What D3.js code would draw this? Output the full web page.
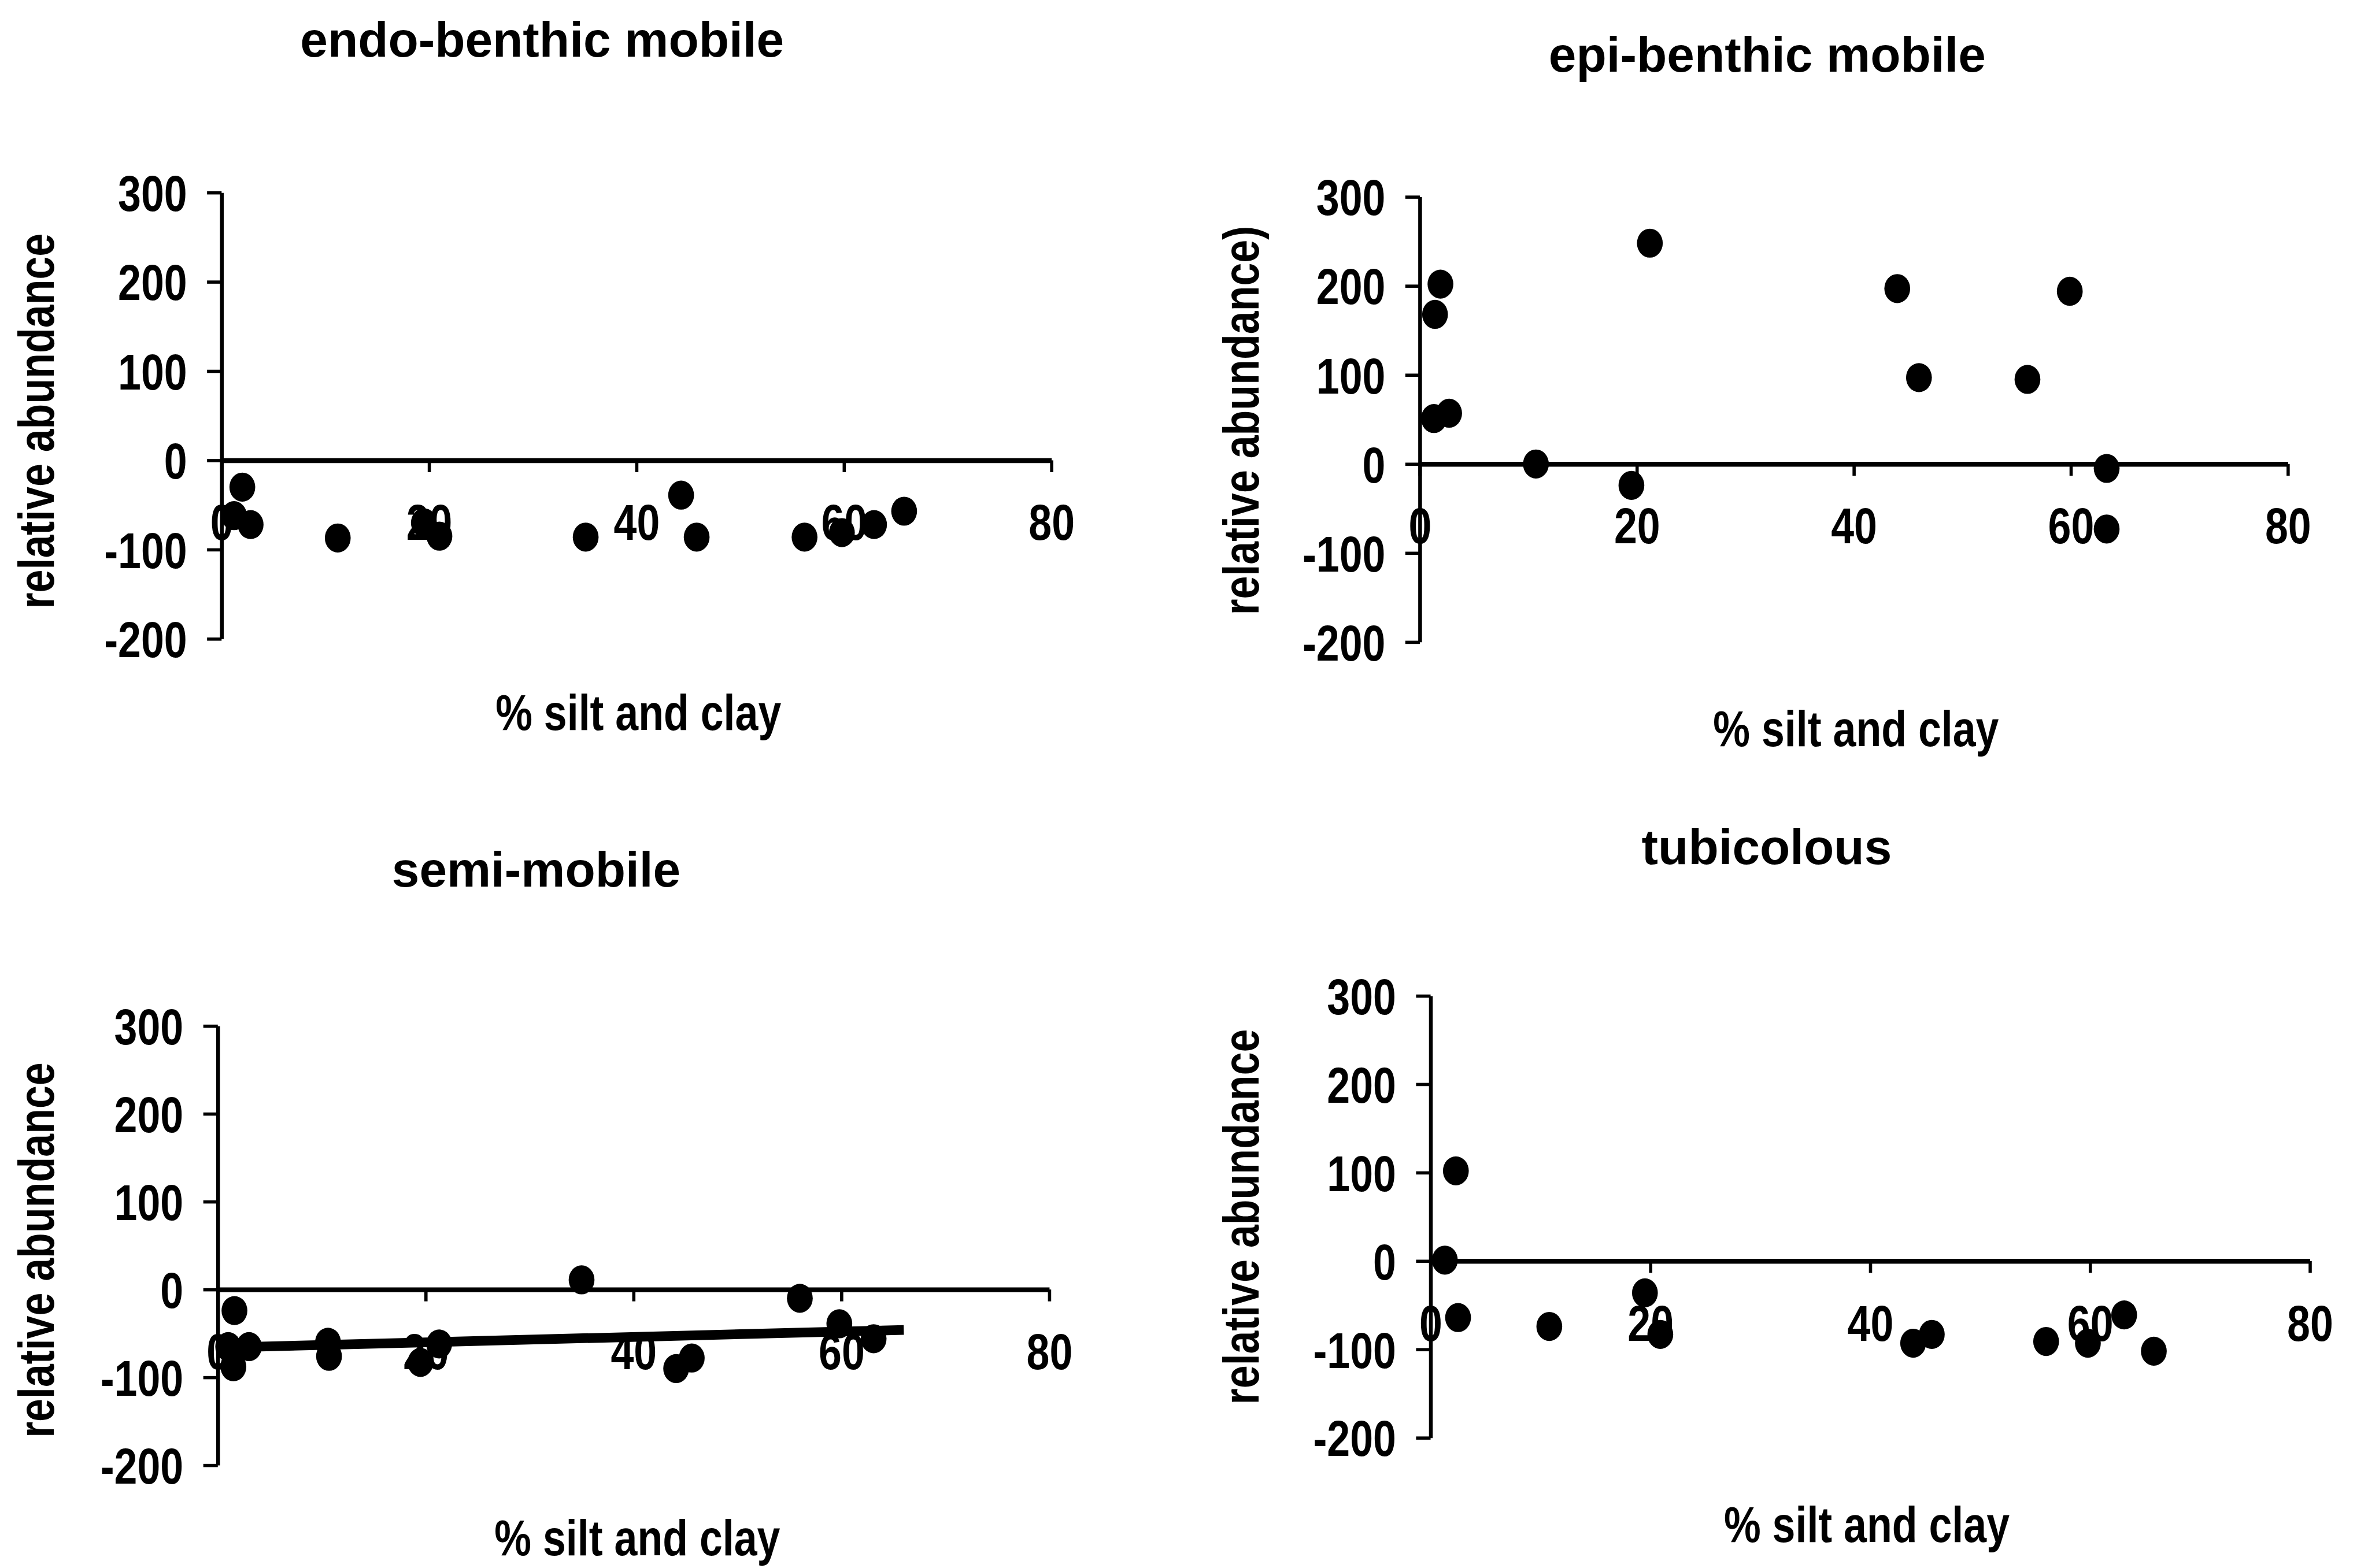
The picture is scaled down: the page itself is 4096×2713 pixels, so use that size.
<!DOCTYPE html>
<html>
<head>
<meta charset="utf-8">
<script src="https://cdn.jsdelivr.net/npm/d3@7"></script>
<style>
  html, body { margin: 0; padding: 0; background: #fff; }
  svg { display: block; }
  text { font-family: "Liberation Sans", Arial, sans-serif; font-weight: bold; fill: #000; }
</style>
</head>
<body>
<script>
// ---- data -------------------------------------------------------------
const xTicks = [0, 20, 40, 60, 80];
const yTicks = [-200, -100, 0, 100, 200, 300];
const xTitle = "% silt and clay";

const panelTitles = ["endo-benthic mobile", "epi-benthic mobile", "semi-mobile", "tubicolous"];
const yTitles = ["relative abundance", "relative abundance)", "relative abundance", "relative abundance"];

// endo-benthic mobile
const endoX = [1.2, 2.0, 2.8, 11.2, 19.5, 21.0, 35.1, 44.3, 45.8, 56.2, 59.8, 62.9, 65.8];
const endoY = [-62, -30, -72, -87, -70, -85, -86, -39, -86, -86, -81, -72, -57];

// epi-benthic mobile
const epiX = [1.3, 1.4, 1.9, 2.7, 10.7, 19.5, 21.2, 44.0, 46.0, 56.0, 59.9, 63.3, 63.3];
const epiY = [51, 168, 202, 57, 0, -24, 248, 197, 97, 95, 194, -5, -73];

// semi-mobile
const semiX = [1.0, 1.5, 1.6, 3.0, 10.6, 10.7, 19.5, 21.3, 35.0, 44.1, 45.6, 56.0, 59.8, 63.1];
const semiY = [-65, -88, -24, -65, -60, -76, -83, -62, 11, -90, -78, -10, -39, -56];

// linear trend for semi-mobile
const trendX = [0.8, 66];
const trendY = [-66, -46];

// tubicolous
const tubX = [1.3, 2.3, 2.5, 10.8, 19.5, 20.9, 43.9, 45.6, 56.0, 59.8, 63.1, 65.8];
const tubY = [1, 102, -64, -74, -36, -83, -93, -83, -91, -93, -61, -102];

// ---- layout (drawing units of the full figure) -------------------------
const W = 4403, H = 2916;
const layout = [
  { xr: [412, 1955],  yr: [1188, 358],  title: [1008, 105],  yt: [100, 783],   xt: [1187, 1357] },
  { xr: [2640, 4254], yr: [1194, 366],  title: [3286, 133],  yt: [2340, 782],  xt: [3451, 1388] },
  { xr: [405, 1951],  yr: [2725, 1908], title: [997, 1649],  yt: [100, 2325],  xt: [1185, 2893] },
  { xr: [2660, 4295], yr: [2674, 1852], title: [3285, 1607], yt: [2340, 2263], xt: [3471, 2868] }
];
const series = [
  { xs: endoX, ys: endoY },
  { xs: epiX,  ys: epiY },
  { xs: semiX, ys: semiY, tx: trendX, ty: trendY },
  { xs: tubX,  ys: tubY }
];

const narrow = 0.82;      // condensed lettering for axis text
const titleSize = 92, labelSize = 94, tickSize = 94;

const svg = d3.select("body").append("svg")
  .attr("width", 4096).attr("height", 2713)
  .attr("viewBox", `0 0 ${W} ${H}`);

series.forEach((s, i) => {
  const L = layout[i];
  const x = d3.scaleLinear().domain([0, 80]).range(L.xr);
  const y = d3.scaleLinear().domain([-200, 300]).range(L.yr);
  const g = svg.append("g");

  // panel title
  g.append("text")
    .attr("x", L.title[0]).attr("y", L.title[1])
    .attr("text-anchor", "middle")
    .style("font-size", titleSize + "px")
    .text(panelTitles[i]);

  // y axis
  const ya = g.append("g")
    .attr("transform", `translate(${x(0)},0)`)
    .call(d3.axisLeft(y).tickValues(yTicks).tickSize(27).tickSizeOuter(0).tickFormat(d => String(d)));
  ya.select(".domain").attr("stroke-width", 7);
  ya.selectAll(".tick line").attr("stroke-width", 6);
  ya.selectAll(".tick text")
    .attr("x", -64 / narrow).attr("dy", "0.358em")
    .attr("transform", `scale(${narrow},1)`)
    .attr("font-family", null).attr("font-size", null)
    .style("font-size", tickSize + "px");

  // x axis crossing at zero
  const xa = g.append("g")
    .attr("transform", `translate(0,${y(0)})`)
    .call(d3.axisBottom(x).tickValues(xTicks).tickSize(22).tickSizeOuter(0).tickFormat(d => String(d)));
  xa.select(".domain").attr("stroke-width", 9);
  xa.selectAll(".tick line").attr("stroke-width", 6);
  xa.selectAll(".tick text")
    .attr("y", 148).attr("dy", 0)
    .attr("transform", `scale(${narrow},1)`)
    .attr("font-family", null).attr("font-size", null)
    .style("font-size", tickSize + "px");

  // axis titles
  g.append("text")
    .attr("transform", `translate(${L.yt[0]},${L.yt[1]}) rotate(-90) scale(${narrow},1)`)
    .attr("text-anchor", "middle")
    .style("font-size", labelSize + "px")
    .text(yTitles[i]);
  g.append("text")
    .attr("transform", `translate(${L.xt[0]},${L.xt[1]}) scale(${narrow},1)`)
    .attr("text-anchor", "middle")
    .style("font-size", labelSize + "px")
    .text(xTitle);

  // trend line
  if (s.tx) {
    g.append("path")
      .datum(d3.zip(s.tx, s.ty))
      .attr("fill", "none").attr("stroke", "#000").attr("stroke-width", 18)
      .attr("d", d3.line().x(d => x(d[0])).y(d => y(d[1])));
  }

  // points
  g.append("g").selectAll("ellipse")
    .data(d3.zip(s.xs, s.ys))
    .join("ellipse")
    .attr("cx", d => x(d[0])).attr("cy", d => y(d[1]))
    .attr("rx", 24).attr("ry", 27)
    .attr("fill", "#000");
});
</script>
</body>
</html>
